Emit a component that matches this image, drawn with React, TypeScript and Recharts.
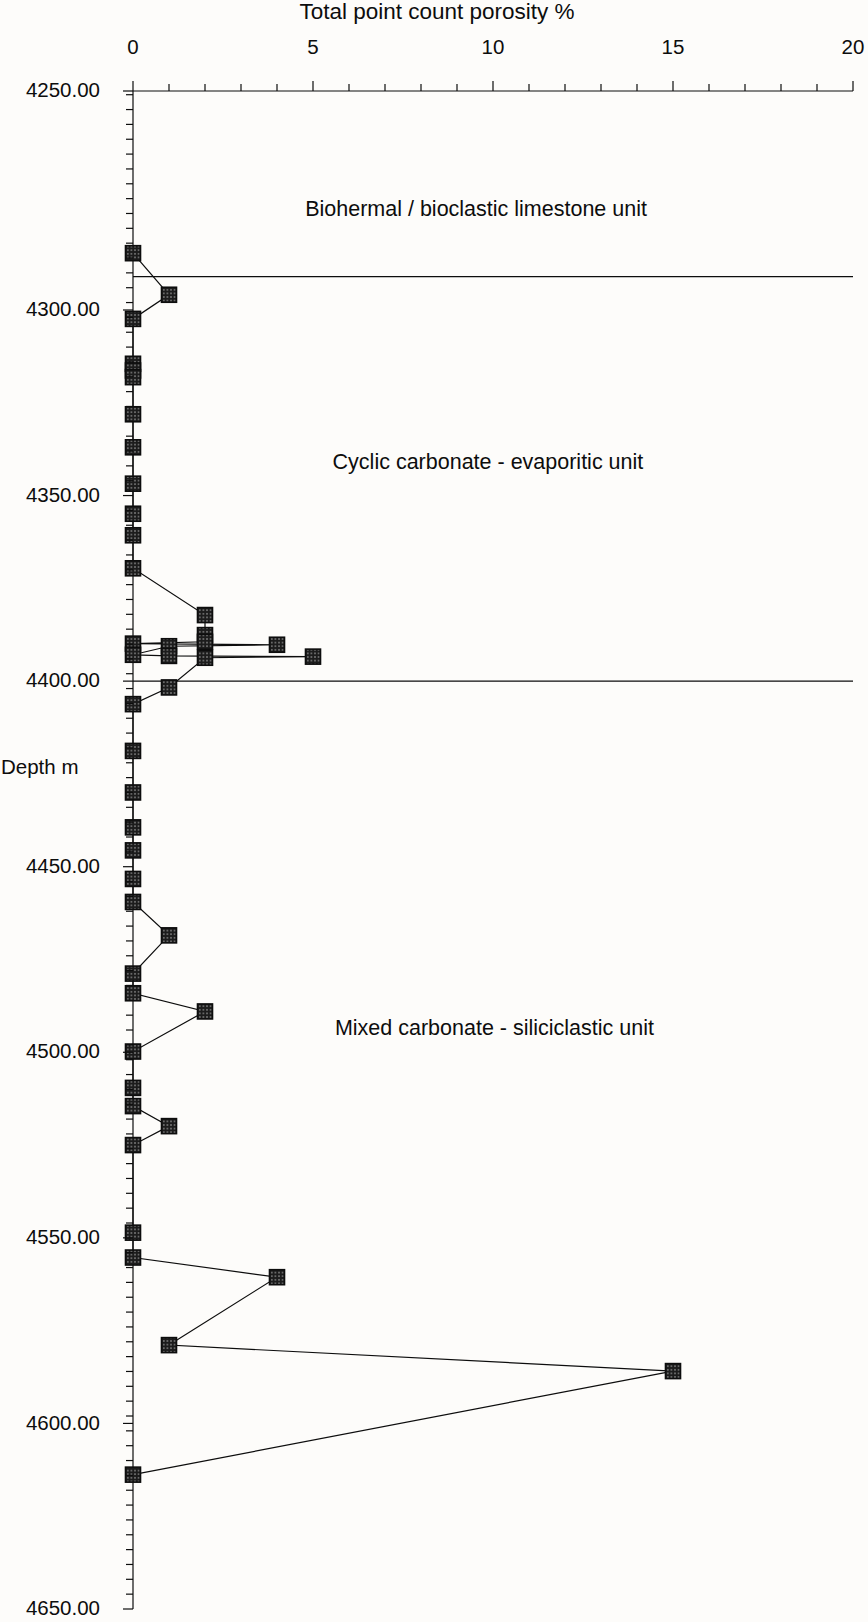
import React from 'react';
import {
  ScatterChart,
  Scatter,
  XAxis,
  YAxis,
  ReferenceLine,
  ReferenceDot,
  Customized,
} from 'recharts';

// ---- data ----
const depths = [
  4284.7, 4295.9, 4302.4, 4314.5, 4316.3, 4318.1, 4328.1, 4337.0, 4346.8, 4354.9,
  4360.7, 4369.6, 4382.2, 4387.6, 4389.4, 4389.9, 4390.2, 4390.6, 4392.9, 4393.2,
  4393.4, 4393.7, 4401.7, 4406.2, 4418.8, 4430.0, 4439.4, 4445.6, 4453.3, 4459.5,
  4468.5, 4478.8, 4484.1, 4489.0, 4499.8, 4509.6, 4514.5, 4519.9, 4525.0, 4548.6,
  4555.3, 4560.6, 4578.9, 4585.9, 4613.8,
];
const porosity = [
  0, 1, 0, 0, 0, 0, 0, 0, 0, 0,
  0, 0, 2, 2, 2, 0, 4, 1, 0, 1,
  5, 2, 1, 0, 0, 0, 0, 0, 0, 0,
  1, 0, 0, 2, 0, 0, 0, 1, 0, 0,
  0, 4, 1, 15, 0,
];

const xTicks = [0, 1, 2, 3, 4, 5, 6, 7, 8, 9, 10, 11, 12, 13, 14, 15, 16, 17, 18, 19, 20];
const xLabelTicks = [0, 5, 10, 15, 20];
// depth axis: the top of the drawn axis (labelled 4250.00 in the figure) sits a little above 4250
const depthDomain = [4241, 4650];
const yLabelPositions = [4241, 4300, 4350, 4400, 4450, 4500, 4550, 4600, 4650];
const yLabels = ['4250.00', '4300.00', '4350.00', '4400.00', '4450.00', '4500.00', '4550.00', '4600.00', '4650.00'];
const yMinorStep = 4;

const boundaryDepths = [4291, 4400];
const unitNames = [
  'Biohermal / bioclastic limestone unit',
  'Cyclic carbonate - evaporitic unit',
  'Mixed carbonate - siliciclastic unit',
];
const unitLabelDepths = [4272.6, 4340.8, 4493.2];
const unitLabelPorosity = [9.53, 9.86, 10.04];

const xTitle = 'Total point count porosity %';
const yTitle = 'Depth m';

// ---- derived ----
const data = depths.map((d, i) => ({ depth: d, porosity: porosity[i] }));
const yTickSet = new Set<number>(yLabelPositions);
for (let v = 4250; v <= depthDomain[1]; v += yMinorStep) yTickSet.add(v);
for (let v = 4250 - yMinorStep; v > depthDomain[0]; v -= yMinorStep) yTickSet.add(v);
const yTicks = Array.from(yTickSet).sort((a, b) => a - b);

const FONT = '"Liberation Sans", Arial, Helvetica, sans-serif';
const INK = '#0d0d0d';

const XTick = (props: any) => {
  const { x, y, payload } = props;
  const v = payload.value;
  const major = xLabelTicks.includes(v);
  return (
    <g>
      <line x1={x} y1={y} x2={x} y2={y - (major ? 10 : 7)} stroke={INK} strokeWidth={1.2} />
      {major && (
        <text x={x} y={y - 37} textAnchor="middle" fontSize={20.5} fontFamily={FONT} fill={INK}>
          {v}
        </text>
      )}
    </g>
  );
};

const YTick = (props: any) => {
  const { x, y, payload } = props;
  const v = payload.value;
  const idx = yLabelPositions.indexOf(v);
  const major = idx >= 0;
  return (
    <g>
      <line x1={x} y1={y} x2={x - (major ? 10 : 7)} y2={y} stroke={INK} strokeWidth={1.2} />
      {major && (
        <text x={x - 33} y={y} dy="0.3em" textAnchor="end" fontSize={20.5} fontFamily={FONT} fill={INK}>
          {yLabels[idx]}
        </text>
      )}
    </g>
  );
};

const Marker = (props: any) => {
  const { cx, cy } = props;
  if (cx == null || cy == null) return null;
  return (
    <rect x={cx - 7.5} y={cy - 7.5} width={15} height={15} fill="url(#dotpat)" stroke={INK} strokeWidth={1.6} />
  );
};

const Extras = () => (
  <g>
    <defs>
      <pattern id="dotpat" width="3.6" height="3.6" patternUnits="userSpaceOnUse">
        <rect width="3.6" height="3.6" fill="#1c1c1c" />
        <circle cx="1.8" cy="1.8" r="0.85" fill="#8a8a8a" />
      </pattern>
    </defs>
    <text x={437} y={19} textAnchor="middle" fontSize={22.5} fontFamily={FONT} fill={INK}>
      {xTitle}
    </text>
    <text x={1} y={767} dy="0.35em" textAnchor="start" fontSize={20.5} fontFamily={FONT} fill={INK}>
      {yTitle}
    </text>
  </g>
);

export default function App() {
  return (
    <div
      style={{
        position: 'absolute',
        left: 0,
        top: 0,
        width: 868,
        height: 1622,
        background: '#fdfcfa',
      }}
    >
      <ScatterChart width={868} height={1622} margin={{ top: 0, right: 15, bottom: 13, left: 0 }}>
        <Customized component={Extras} />
        <XAxis
          type="number"
          dataKey="porosity"
          orientation="top"
          domain={[0, 20]}
          ticks={xTicks}
          interval={0}
          height={91}
          tickSize={0}
          tickMargin={0}
          tickLine={false}
          tick={(p: any) => <XTick {...p} />}
          axisLine={{ stroke: INK, strokeWidth: 1.2 }}
        />
        <YAxis
          type="number"
          dataKey="depth"
          domain={depthDomain}
          reversed
          ticks={yTicks}
          interval={0}
          width={133}
          tickSize={0}
          tickMargin={0}
          tickLine={false}
          tick={(p: any) => <YTick {...p} />}
          axisLine={{ stroke: INK, strokeWidth: 1.2 }}
        />
        {boundaryDepths.map((d) => (
          <ReferenceLine key={d} y={d} stroke={INK} strokeWidth={1.2} />
        ))}
        {unitNames.map((name, i) => (
          <ReferenceDot
            key={name}
            x={unitLabelPorosity[i]}
            y={unitLabelDepths[i]}
            r={0}
            fill="none"
            stroke="none"
            label={{ value: name, position: 'center', fontSize: 21.5, fill: INK, fontFamily: FONT }}
          />
        ))}
        <Scatter
          data={data}
          line={{ stroke: INK, strokeWidth: 1.2 }}
          shape={(p: any) => <Marker {...p} />}
          isAnimationActive={false}
        />
      </ScatterChart>
    </div>
  );
}
